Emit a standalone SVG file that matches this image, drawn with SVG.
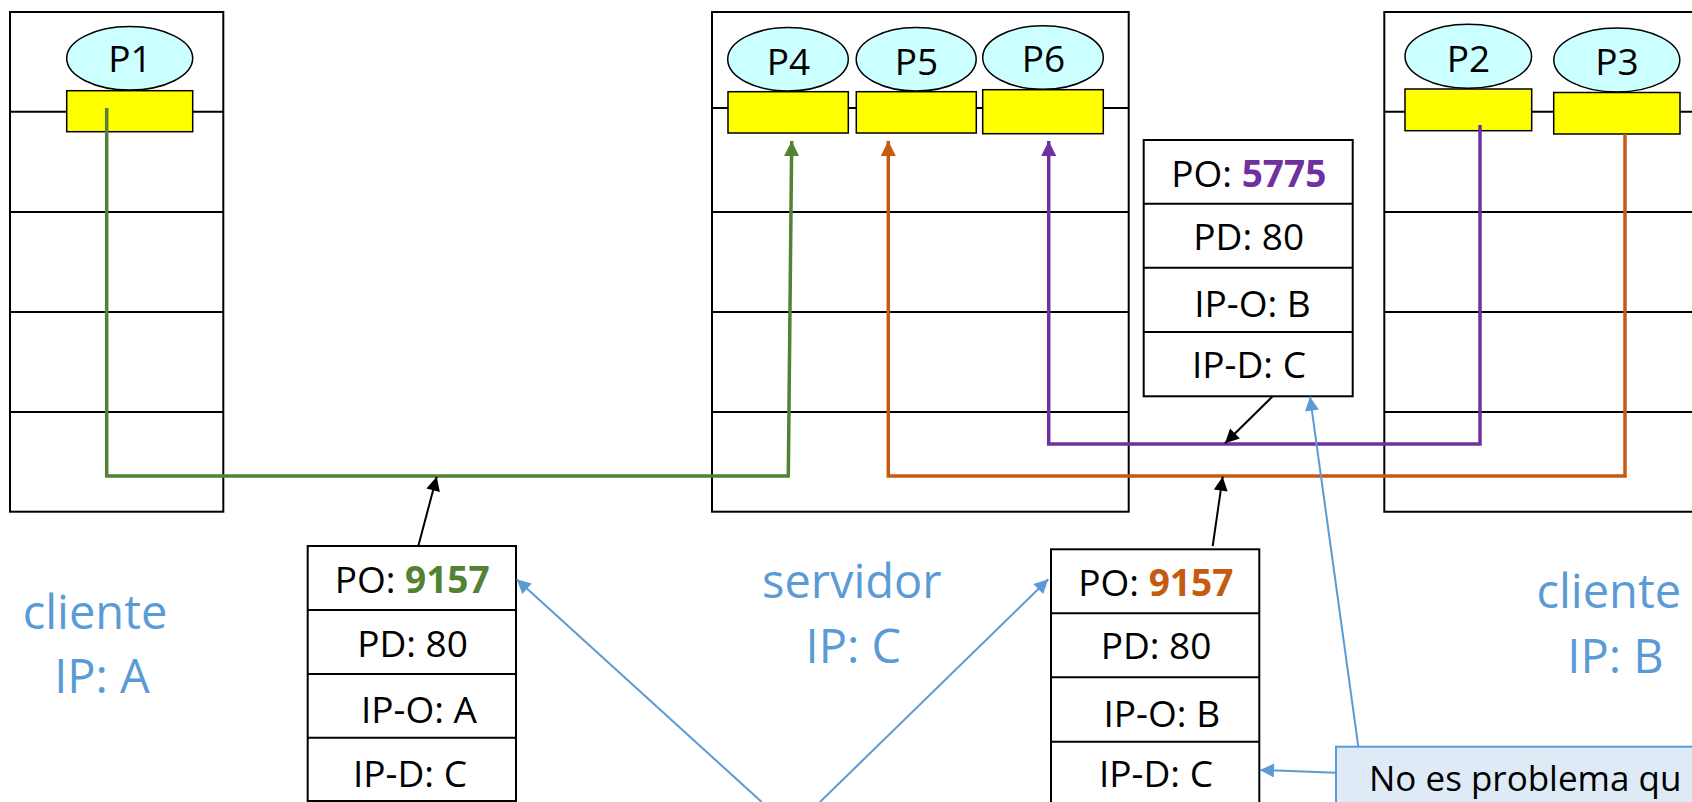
<svg xmlns="http://www.w3.org/2000/svg" width="1692" height="802" viewBox="0 0 1692 802">
<style>
.box{fill:#fff;stroke:#000;stroke-width:2}
.ln{stroke:#000;stroke-width:2;fill:none}
.proc{fill:#CCFFFF;stroke:#000;stroke-width:1.5}
.sock{fill:#FFFF00;stroke:#000;stroke-width:1.5}
.t{font-family:"Open Sans","Liberation Sans",sans-serif;fill:#000;text-anchor:middle}
.pl{font-size:37px}
.pk{font-size:37px}
.lbl{font-family:"Open Sans","Liberation Sans",sans-serif;font-size:47px;fill:#5B9BD5;text-anchor:middle}
.b{font-weight:bold}
.g{fill:#548235}.o{fill:#C55A11}.v{fill:#7030A0}
.cg{stroke:#548235;stroke-width:3.5;fill:none}
.co{stroke:#C55A11;stroke-width:3.5;fill:none}
.cv{stroke:#7030A0;stroke-width:3.5;fill:none}
.ck{stroke:#000;stroke-width:2;fill:none}
.cb{stroke:#5B9BD5;stroke-width:2;fill:none}
</style>
<defs>
<marker id="mg" viewBox="0 0 10 10" refX="10" refY="5" markerUnits="userSpaceOnUse" markerWidth="15" markerHeight="15" orient="auto"><path d="M0,0L10,5L0,10z" fill="#548235"/></marker>
<marker id="mo" viewBox="0 0 10 10" refX="10" refY="5" markerUnits="userSpaceOnUse" markerWidth="15" markerHeight="15" orient="auto"><path d="M0,0L10,5L0,10z" fill="#C55A11"/></marker>
<marker id="mv" viewBox="0 0 10 10" refX="10" refY="5" markerUnits="userSpaceOnUse" markerWidth="15" markerHeight="15" orient="auto"><path d="M0,0L10,5L0,10z" fill="#7030A0"/></marker>
<marker id="mk" viewBox="0 0 10 10" refX="10" refY="5" markerUnits="userSpaceOnUse" markerWidth="16" markerHeight="14" orient="auto"><path d="M0,0L10,5L0,10z" fill="#000"/></marker>
<marker id="mb" viewBox="0 0 10 10" refX="10" refY="5" markerUnits="userSpaceOnUse" markerWidth="16" markerHeight="14" orient="auto"><path d="M0,0L10,5L0,10z" fill="#5B9BD5"/></marker>
</defs>

<g id="hostA">
<rect class="box" x="10" y="12" width="213.3" height="499.7"/>
<line class="ln" x1="10" y1="111.7" x2="223.3" y2="111.7"/>
<line class="ln" x1="10" y1="212" x2="223.3" y2="212"/>
<line class="ln" x1="10" y1="312" x2="223.3" y2="312"/>
<line class="ln" x1="10" y1="412" x2="223.3" y2="412"/>
<ellipse class="proc" cx="129.7" cy="58.3" rx="63" ry="31.7"/>
<text class="t pl" x="130" y="71.5">P1</text>
<rect class="sock" x="66.7" y="90.7" width="126" height="41"/>
</g>

<g id="serverC">
<rect class="box" x="712" y="12" width="416.7" height="499.7"/>
<line class="ln" x1="712" y1="108" x2="1128.7" y2="108"/>
<line class="ln" x1="712" y1="212" x2="1128.7" y2="212"/>
<line class="ln" x1="712" y1="312" x2="1128.7" y2="312"/>
<line class="ln" x1="712" y1="412" x2="1128.7" y2="412"/>
<ellipse class="proc" cx="788" cy="59.3" rx="60.3" ry="31.7"/>
<text class="t pl" x="788.5" y="74.5">P4</text>
<ellipse class="proc" cx="916.2" cy="59.3" rx="60" ry="31.7"/>
<text class="t pl" x="916.5" y="74.5">P5</text>
<ellipse class="proc" cx="1043" cy="57.5" rx="60.3" ry="31.8"/>
<text class="t pl" x="1043.5" y="72">P6</text>
<rect class="sock" x="728" y="91.7" width="120.3" height="41.3"/>
<rect class="sock" x="856.3" y="91.7" width="120" height="41.3"/>
<rect class="sock" x="982.7" y="89.7" width="120.6" height="44"/>
</g>

<g id="hostB">
<path class="ln" d="M1692,12H1384.3V511.7H1692"/>
<line class="ln" x1="1384.3" y1="111.7" x2="1692" y2="111.7"/>
<line class="ln" x1="1384.3" y1="212" x2="1692" y2="212"/>
<line class="ln" x1="1384.3" y1="312" x2="1692" y2="312"/>
<line class="ln" x1="1384.3" y1="412" x2="1692" y2="412"/>
<ellipse class="proc" cx="1468.3" cy="56.3" rx="63.3" ry="32"/>
<text class="t pl" x="1468.5" y="71.5">P2</text>
<ellipse class="proc" cx="1616.8" cy="60" rx="63" ry="32"/>
<text class="t pl" x="1617" y="75">P3</text>
<rect class="sock" x="1405" y="89" width="126.7" height="41.7"/>
<rect class="sock" x="1553.7" y="92.5" width="126.3" height="41.5"/>
</g>

<g id="labels">
<text class="lbl" x="95" y="629">cliente</text>
<text class="lbl" x="102" y="692.7">IP: A</text>
<text class="lbl" x="851.8" y="598.3">servidor</text>
<text class="lbl" x="853.3" y="662.7">IP: C</text>
<text class="lbl" x="1608.8" y="608.3">cliente</text>
<text class="lbl" x="1615.5" y="672.7">IP: B</text>
</g>

<g id="packetA">
<rect class="box" x="307.7" y="546" width="208.3" height="255"/>
<line class="ln" x1="307.7" y1="610" x2="516" y2="610"/>
<line class="ln" x1="307.7" y1="674" x2="516" y2="674"/>
<line class="ln" x1="307.7" y1="737.7" x2="516" y2="737.7"/>
<text class="t pk" x="412.2" y="592.7">PO: <tspan class="b g">9157</tspan></text>
<text class="t pk" x="412.5" y="656.7">PD: 80</text>
<text class="t pk" x="419" y="723.3">IP-O: A</text>
<text class="t pk" x="410" y="786.7">IP-D: C</text>
</g>

<g id="packetB">
<rect class="box" x="1051" y="549.3" width="208.3" height="256.4"/>
<line class="ln" x1="1051" y1="613.3" x2="1259.3" y2="613.3"/>
<line class="ln" x1="1051" y1="677.3" x2="1259.3" y2="677.3"/>
<line class="ln" x1="1051" y1="741.7" x2="1259.3" y2="741.7"/>
<text class="t pk" x="1155.8" y="596">PO: <tspan class="b o">9157</tspan></text>
<text class="t pk" x="1156" y="659.3">PD: 80</text>
<text class="t pk" x="1161.8" y="727.3">IP-O: B</text>
<text class="t pk" x="1156" y="786.7">IP-D: C</text>
</g>

<g id="packet5775">
<rect class="box" x="1143.7" y="140" width="209" height="256.3"/>
<line class="ln" x1="1143.7" y1="203.7" x2="1352.7" y2="203.7"/>
<line class="ln" x1="1143.7" y1="267.7" x2="1352.7" y2="267.7"/>
<line class="ln" x1="1143.7" y1="332" x2="1352.7" y2="332"/>
<text class="t pk" x="1248.8" y="186.7">PO: <tspan class="b v">5775</tspan></text>
<text class="t pk" x="1248.7" y="250">PD: 80</text>
<text class="t pk" x="1252.5" y="316.7">IP-O: B</text>
<text class="t pk" x="1249" y="378.3">IP-D: C</text>
</g>

<g id="callout">
<rect x="1336" y="746.7" width="400" height="100" fill="#DEEBF7" stroke="#5B9BD5" stroke-width="2"/>
<text x="1369" y="791" font-family="'Open Sans','Liberation Sans',sans-serif" font-size="35" fill="#000">No es problema qu</text>
</g>

<g id="connectors">
<path class="cg" d="M106.7,108V476H788.3L791.7,141" marker-end="url(#mg)"/>
<path class="co" d="M1625,134V476H888.3V141" marker-end="url(#mo)"/>
<path class="cv" d="M1480,125V444H1048.7V141" marker-end="url(#mv)"/>
<path class="ck" d="M418.3,546L436.7,476.7" marker-end="url(#mk)"/>
<path class="ck" d="M1272.7,396.3L1225,443.3" marker-end="url(#mk)"/>
<path class="ck" d="M1212.7,546L1222.7,476.7" marker-end="url(#mk)"/>
<path class="cb" d="M1358.3,746.7L1310,396.7" marker-end="url(#mb)"/>
<path class="cb" d="M1336,772.7L1260,770" marker-end="url(#mb)"/>
<path class="cb" d="M761.7,802L516.7,579.3" marker-end="url(#mb)"/>
<path class="cb" d="M820,802L1048.3,579.3" marker-end="url(#mb)"/>
</g>
</svg>
